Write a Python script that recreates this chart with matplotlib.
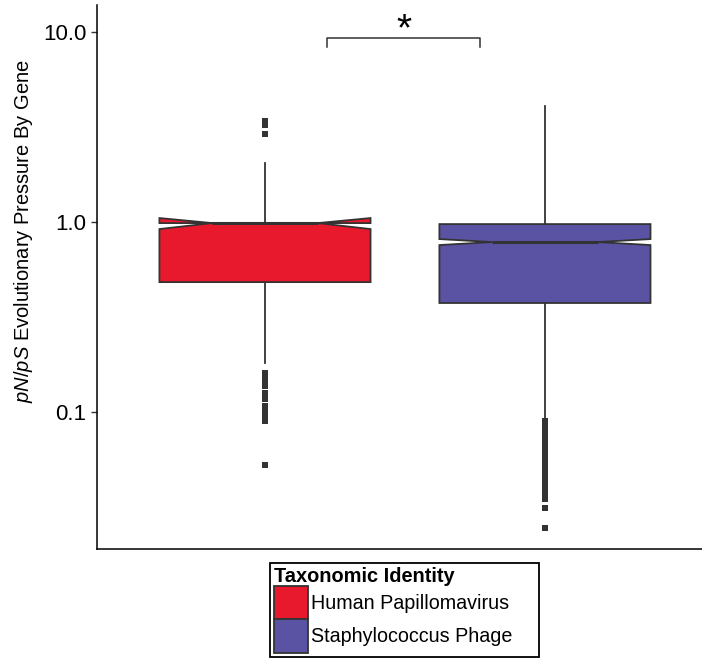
import numpy as np
import matplotlib.pyplot as plt
from matplotlib.patches import Patch, Rectangle

plt.rcParams['font.family'] = ['Liberation Sans', 'DejaVu Sans']
plt.rcParams['mathtext.fontset'] = 'custom'
plt.rcParams['mathtext.rm'] = 'Liberation Sans'
plt.rcParams['mathtext.it'] = 'Liberation Sans:italic'

# groups and colours
groups = ["Human Papillomavirus", "Staphylococcus Phage"]
colors = ["#e8192c", "#5a52a3"]

# box summaries (log scale)
q1 = [0.483, 0.375]
med = [0.988, 0.785]
q3 = [0.988, 0.976]
cilo = [0.919, 0.757]
cihi = [1.05, 0.814]
whislo = [0.181, 0.093]
whishi = [2.04, 4.08]

hpv_fliers = [3.4, 3.25, 2.9,
              0.160, 0.151, 0.144, 0.137, 0.126, 0.117,
              0.1075, 0.1025, 0.0976, 0.093, 0.0897, 0.0526]
staph_fliers = [0.0897, 0.0854, 0.0814, 0.0775, 0.0738, 0.0704, 0.0671,
                0.0639, 0.0608, 0.058, 0.0552, 0.0526, 0.0501, 0.0477,
                0.0455, 0.0433, 0.0413, 0.0393, 0.0375, 0.0357, 0.0349,
                0.0311, 0.0245]
fliers = [hpv_fliers, staph_fliers]

yticks = [0.1, 1.0, 10.0]
yticklabels = ["0.1", "1.0", "10.0"]

fig = plt.figure(figsize=(7.02, 6.71), dpi=100)
ax = fig.add_axes([97/702, 122/671, (702-97)/702, (549-5)/671])
ax.set_yscale('log')

stats = []
for i in range(2):
    stats.append(dict(med=med[i], q1=q1[i], q3=q3[i], cilo=cilo[i], cihi=cihi[i],
                      whislo=whislo[i], whishi=whishi[i], fliers=fliers[i]))

bp = ax.bxp(stats, positions=[1, 2], widths=0.754, shownotches=True,
            showcaps=False, patch_artist=True,
            boxprops=dict(edgecolor='#333333', linewidth=1.3),
            medianprops=dict(color='#333333', linewidth=2.2),
            whiskerprops=dict(color='#333333', linewidth=1.3),
            flierprops=dict(marker='s', markersize=4, markerfacecolor='#333333',
                            markeredgecolor='#333333', markeredgewidth=0))
for patch, c in zip(bp['boxes'], colors):
    patch.set_facecolor(c)

# significance bracket
ax.plot([1.221, 1.221, 1.768, 1.768], [8.34, 9.3, 9.3, 8.34], color='#333333', lw=1.1)
ax.text(1.495, 10.2, '*', fontsize=28, ha='center', va='center')

ax.set_xlim(0.4, 2.561)
ax.set_ylim(0.019, 13.9)
ax.set_yticks(yticks)
ax.set_yticklabels(yticklabels)
ax.minorticks_off()
ax.tick_params(axis='y', labelsize=16, length=4, width=1, color='#333333', labelcolor='black')
ax.set_xticks([])
for s in ['top', 'right']:
    ax.spines[s].set_visible(False)
for s in ['left', 'bottom']:
    ax.spines[s].set_linewidth(1.1)
    ax.spines[s].set_color('black')

ax.set_ylabel(r'$\mathit{pN/pS}$ Evolutionary Pressure By Gene', fontsize=14.5)
ax.yaxis.set_label_coords(-0.102, 0.585)

handles = [Patch(facecolor=c, edgecolor='#333333', linewidth=1.3) for c in colors]
leg = fig.legend(handles, groups, loc='upper left', bbox_to_anchor=(270/702, 1 - 563/671),
                 title='Taxonomic Identity', fontsize=14.2, title_fontsize=14.4,
                 frameon=False, handlelength=1.75, handleheight=2.23, labelspacing=0,
                 handletextpad=0.15, borderpad=0.2, borderaxespad=0, alignment='left')
leg.get_title().set_fontweight('bold')

# legend frame, a bit wider on the right like the original
fig.canvas.draw()
bb = leg.get_window_extent()
W, H = fig.bbox.width, fig.bbox.height
fig.add_artist(Rectangle((bb.x0 / W, bb.y0 / H), (bb.width + 22) / W, bb.height / H,
                         transform=fig.transFigure, fill=False, edgecolor='black', lw=1.3))

fig.savefig('out.png', dpi=100)
